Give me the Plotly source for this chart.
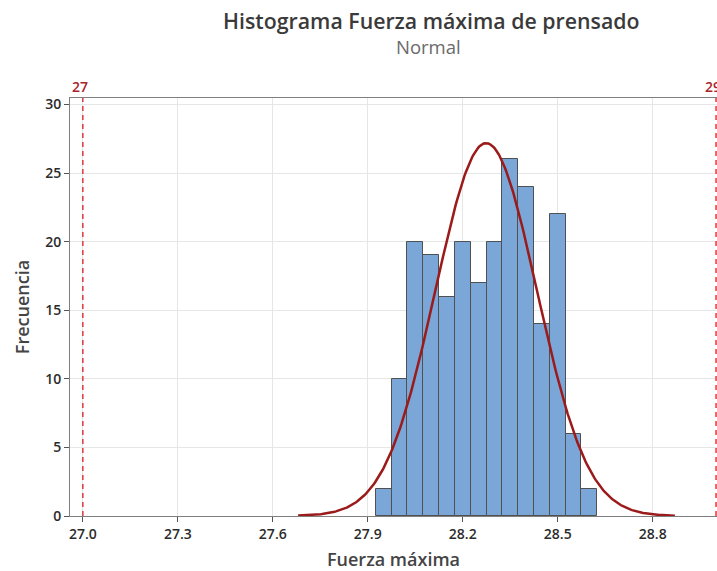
import numpy as np
import plotly.graph_objects as go

# ---- data ----
bin_centers = [27.95, 28.00, 28.05, 28.10, 28.15, 28.20, 28.25,
               28.30, 28.35, 28.40, 28.45, 28.50, 28.55, 28.60]
counts = [2, 10, 20, 19, 16, 20, 17, 20, 26, 24, 14, 22, 6, 2]
bin_width = 0.05
fit_mean = 28.274
fit_sd = 0.160
curve_range = [27.68, 28.87]
spec_limits = [27, 29]
spec_labels = ["27", "29"]
x_ticks = [27.0, 27.3, 27.6, 27.9, 28.2, 28.5, 28.8]
y_ticks = [0, 5, 10, 15, 20, 25, 30]

n_total = sum(counts)
xc = np.linspace(curve_range[0], curve_range[1], 300)
yc = n_total * bin_width * np.exp(-0.5 * ((xc - fit_mean) / fit_sd) ** 2) / (fit_sd * np.sqrt(2 * np.pi))

FONT = "Open Sans"
W, H, ML, MR, MT, MB = 717, 571, 70, 0, 98, 55
PW, PH = W - ML - MR, H - MT - MB

def px_x(px):
    return (px - ML) / PW

def px_y(py):
    return (H - MB - py) / PH

fig = go.Figure()
fig.add_trace(go.Bar(
    x=bin_centers, y=counts, width=bin_width,
    marker=dict(color="#7BA6D8", line=dict(color="#505050", width=1)),
    showlegend=False, hoverinfo="x+y"))
fig.add_trace(go.Scatter(
    x=xc, y=yc, mode="lines",
    line=dict(color="#9B1A1A", width=2.5), showlegend=False))

for v, lab in zip(spec_limits, spec_labels):
    fig.add_shape(type="line", x0=v, x1=v, xref="x", y0=0, y1=1, yref="paper",
                  line=dict(color="#E0383C", width=1.5, dash="5px,4px"))
    fig.add_annotation(x=v, xref="x", y=px_y(87), yref="paper", text=lab,
                       showarrow=False, yanchor="middle", xanchor="center",
                       xshift=-3,
                       font=dict(family=FONT, size=14, color="#A8242A", weight=600))

fig.add_annotation(x=px_x(431), xref="paper", y=px_y(20), yref="paper",
                   text="Histograma Fuerza máxima de prensado", showarrow=False,
                   xanchor="center", yanchor="middle",
                   font=dict(family=FONT, size=21.3, color="#3A3A3A", weight=600))
fig.add_annotation(x=px_x(428), xref="paper", y=px_y(46), yref="paper",
                   text="Normal", showarrow=False, xanchor="center", yanchor="middle",
                   font=dict(family=FONT, size=18.5, color="#6A6A6A"))

fig.update_layout(
    width=W, height=H,
    margin=dict(l=ML, r=MR, t=MT, b=MB),
    paper_bgcolor="white", plot_bgcolor="white",
    bargap=0,
    font=dict(family=FONT, color="#333333"),
    xaxis=dict(range=[26.9595, 29.003], tickvals=x_ticks, tickformat=".1f",
               showgrid=True, gridcolor="#E6E6E6", gridwidth=1,
               ticks="outside", ticklen=5, tickcolor="#555555",
               showline=True, linecolor="#7F7F7F", linewidth=1, mirror=True,
               zeroline=False,
               tickfont=dict(family=FONT, size=14, color="#2B2B2B", weight=600),
               title=dict(text="Fuerza máxima", standoff=13,
                          font=dict(family=FONT, size=18, color="#444444", weight=600))),
    yaxis=dict(range=[0, 30.47], tickvals=y_ticks,
               showgrid=True, gridcolor="#E6E6E6", gridwidth=1,
               ticks="outside", ticklen=5, tickcolor="#555555",
               showline=True, linecolor="#7F7F7F", linewidth=1, mirror=True,
               zeroline=False,
               tickfont=dict(family=FONT, size=14, color="#2B2B2B", weight=600),
               title=dict(text="Frecuencia", standoff=10,
                          font=dict(family=FONT, size=18, color="#444444", weight=600))),
)

fig.write_html("out.html", config={"displayModeBar": False},
               post_script="document.body.style.margin='0';document.body.style.overflow='hidden';")
